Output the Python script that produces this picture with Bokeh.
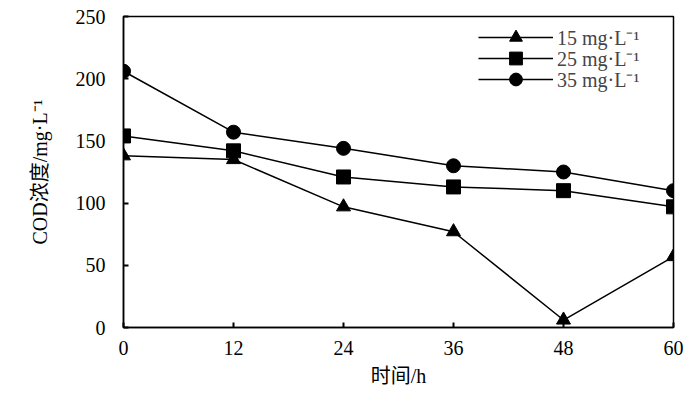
from bokeh.plotting import figure
from bokeh.embed import file_html
from bokeh.resources import INLINE
from bokeh.models import Legend, LegendItem, FixedTicker

hours = [0, 12, 24, 36, 48, 60]
s15 = [138, 135, 97, 77, 6, 57]
s25 = [154, 142, 121, 113, 110, 97]
s35 = [206, 157, 144, 130, 125, 110]
labels = ["15 mg·L⁻¹", "25 mg·L⁻¹", "35 mg·L⁻¹"]
x_ticks = [0, 12, 24, 36, 48, 60]
y_ticks = [0, 50, 100, 150, 200, 250]

FONT = "Liberation Serif, Noto Sans CJK SC"

p = figure(width=692, height=393, x_range=(0, 60), y_range=(0, 250),
           output_backend="svg", toolbar_location=None,
           min_border_left=123, min_border_right=19, min_border_top=16, min_border_bottom=66)
p.grid.visible = False
p.outline_line_color = "black"
p.outline_line_width = 1.5
p.background_fill_color = "white"

series = [(s15, labels[0], "triangle"), (s25, labels[1], "square"), (s35, labels[2], "circle")]
legend_bottoms = [274, 253, 232]
for (ys, lab, mk), lb in zip(series, legend_bottoms):
    l = p.line(hours, ys, line_color="black", line_width=1.5)
    m = p.scatter(hours, ys, marker=mk, size=14, fill_color="black", line_color="black")
    leg = Legend(items=[LegendItem(label=lab, renderers=[l, m])], location=(355, lb),
                 border_line_color=None, background_fill_alpha=0,
                 glyph_width=75, glyph_height=32, label_height=21,
                 label_text_font=FONT, label_text_font_size="20px",
                 spacing=0, padding=0, margin=0, label_standoff=4)
    p.add_layout(leg)

for ax in (p.xaxis, p.yaxis):
    ax.axis_line_color = "black"
    ax.axis_line_width = 1.5
    ax.major_tick_in = 5
    ax.major_tick_out = 0
    ax.minor_tick_line_color = None
    ax.major_tick_line_width = 2
    ax.major_label_text_font = FONT
    ax.major_label_text_font_size = "20px"
    ax.major_label_text_color = "black"
    ax.axis_label_text_font = FONT
    ax.axis_label_text_font_size = "20px"
    ax.axis_label_text_font_style = "normal"
    ax.axis_label_text_color = "black"

p.xaxis.ticker = FixedTicker(ticks=x_ticks)
p.yaxis.ticker = FixedTicker(ticks=y_ticks)
p.xaxis.major_label_standoff = 13
p.yaxis.major_label_standoff = 18
p.xaxis.axis_label = "时间/h"
p.yaxis.axis_label = "COD浓度/mg·L⁻¹"
p.xaxis.axis_label_standoff = 7
p.yaxis.axis_label_standoff = 22

open("out.html", "w").write(file_html(p, INLINE))
